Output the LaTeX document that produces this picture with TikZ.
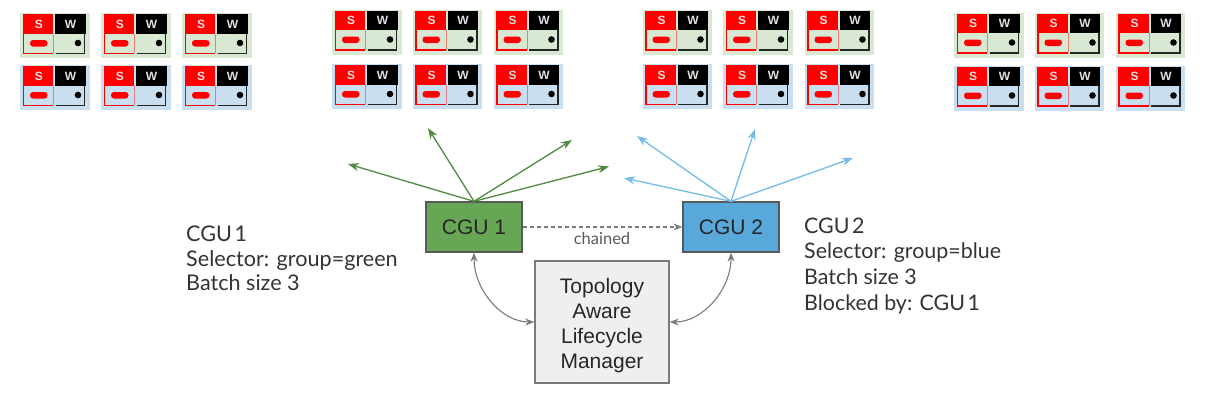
\documentclass[tikz,border=0pt]{standalone}
\usepackage{fontspec}
\setmainfont{Liberation Sans}
\newfontfamily\sidefont{Lato}
\usetikzlibrary{arrows.meta}
\definecolor{cardgreen}{HTML}{D9E8D3}
\definecolor{cardblue}{HTML}{C9DFF0}
\definecolor{cgugreen}{HTML}{66A655}
\definecolor{cgublue}{HTML}{58A8DB}
\definecolor{arrgreen}{HTML}{4E8A3F}
\definecolor{arrblue}{HTML}{74BBE6}
\definecolor{rimgray}{HTML}{595959}
\definecolor{linkgray}{HTML}{7A7A7A}
\definecolor{boxfill}{HTML}{EFEFEF}
\definecolor{sidetext}{HTML}{333333}
\newcommand{\tightgap}{\hspace{0.12em}}
\tikzset{
  cgubox/.style={draw=rimgray,line width=1.3pt,minimum width=96pt,minimum height=50pt,inner sep=0pt,font=\fontsize{21}{25}\selectfont,text=black!85},
  managerbox/.style={draw=linkgray,fill=boxfill,line width=1.5pt,minimum width=134pt,minimum height=122pt,inner sep=0pt,align=center,font=\fontsize{21}{25}\selectfont,text=black!85},
  sidenote/.style={inner sep=0pt,align=left,text=sidetext},
  fanout/.style={line width=1.3pt,-{Stealth[length=11pt,width=8pt]}},
  linkarrow/.style={draw=linkgray,line width=1.1pt},
  linktips/.style={{Stealth[length=9pt,width=7pt]}-{Stealth[length=9pt,width=7pt]}},
  cardletter/.style={inner sep=0pt,text=white!88!black,font=\bfseries\fontsize{12}{12}\selectfont},
}
% #1 x, #2 y, #3 background colour, #4 unique name
\newcommand{\servercard}[4]{%
  \begin{scope}[shift={(#1,#2)}]
    \fill[#3] (0,0) rectangle (69.5,45);
    \fill[red] (2.8,1) rectangle (33.2,20.5);
    \draw[red,line width=1.5pt] (3.5,20.5) -- (3.5,40.5) -- (33,40.5);
    \draw[red!45!#3,line width=.8pt] (33.4,20.5) -- (33.4,40);
    \fill[red,rounded corners=3pt] (10,27) rectangle (27.5,33.5);
    \fill[black] (35.2,1) rectangle (65.5,20.5);
    \draw[black!85,line width=1.5pt] (35.5,40.5) -- (64.5,40.5) -- (64.5,20.5);
    \fill[black] (58,30) circle (3.3);
    \node[cardletter] (#4s) at (19,11) {S};
    \node[cardletter] (#4w) at (50.5,11) {W};
  \end{scope}}
\newcommand{\cardgroup}[6]{% #1-3 x, #4 y top, #5 y bottom, #6 name
  \servercard{#1}{#4}{cardgreen}{#6a}\servercard{#2}{#4}{cardgreen}{#6b}\servercard{#3}{#4}{cardgreen}{#6c}%
  \servercard{#1}{#5}{cardblue}{#6d}\servercard{#2}{#5}{cardblue}{#6e}\servercard{#3}{#5}{cardblue}{#6f}}
\begin{document}
\begin{tikzpicture}[x=1pt,y=-1pt]
\useasboundingbox (0,0) rectangle (1232,408);
\cardgroup{20}{101}{182}{13}{65}{p}
\cardgroup{332}{412.5}{493.5}{9.5}{64}{q}
\cardgroup{642.5}{723}{804.5}{9.5}{64}{r}
\cardgroup{954}{1034.5}{1115.5}{12.5}{65.5}{t}

\node[cgubox,fill=cgugreen] (cgu1) at (474,227) {CGU 1};
\node[cgubox,fill=cgublue] (cgu2) at (731,227) {CGU 2};
\node[managerbox] (talm) at (602,322) {\rule{0pt}{23pt}Topology\\Aware\\Lifecycle\\Manager};

\coordinate (g1) at (348,164);
\coordinate (g2) at (428,128);
\coordinate (g3) at (572,140);
\coordinate (g4) at (609,166.5);
\coordinate (b1) at (624,178);
\coordinate (b2) at (637,136);
\coordinate (b3) at (755,129);
\coordinate (b4) at (853,158);
\foreach \t in {g1,g2,g3,g4} \draw[fanout,arrgreen] (cgu1.north) -- (\t);
\foreach \t in {b1,b2,b3,b4} \draw[fanout,arrblue] (cgu2.north) -- (\t);

\draw[linkarrow,dash pattern=on 4pt off 3pt,-{Stealth[length=9pt,width=7pt]}] (cgu1.east) -- (cgu2.west);
\node[inner sep=0pt,text=black!65,font=\sidefont\fontsize{16.5}{18}\selectfont] (chain) at (602,238) {chained};

\draw[linkarrow,linktips] (cgu1.south) .. controls +(0,37) and +(-33,0) .. (talm.west);
\draw[linkarrow,linktips] (cgu2.south) .. controls +(0,37) and +(33,0) .. (talm.east);

\node[sidenote,anchor=west,font=\sidefont\fontsize{21.6}{24.7}\selectfont] (note1) at (186,258.5) {CGU\tightgap 1\\Selector: group=green\\Batch size 3};
\node[sidenote,anchor=west,font=\sidefont\fontsize{21.4}{25.9}\selectfont] (note2) at (804,266) {CGU\tightgap 2\\Selector: group=blue\\Batch size 3\\Blocked by: CGU\tightgap 1};
\end{tikzpicture}
\end{document}
